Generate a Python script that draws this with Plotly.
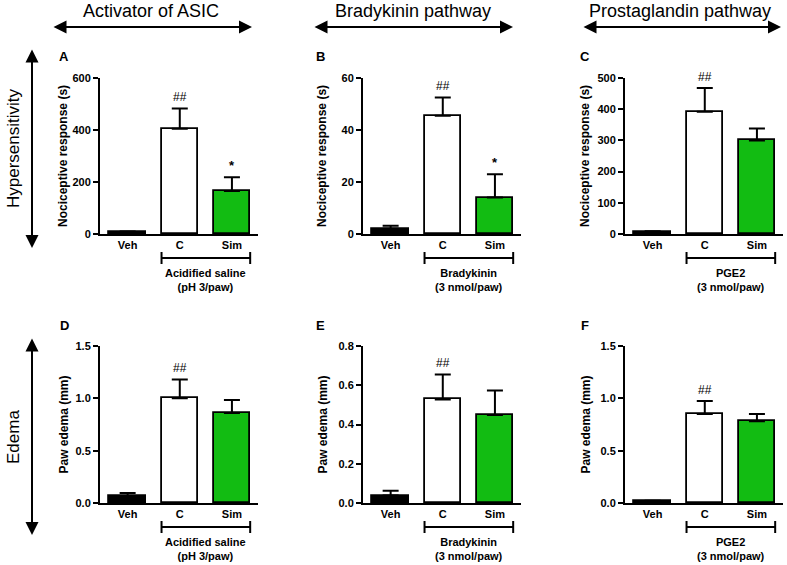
import plotly.graph_objects as go
from plotly.subplots import make_subplots

W, H = 787, 565

categories = ["Veh", "C", "Sim"]
bar_colors = ["black", "white", "#12BC12"]

# media y error estándar de cada panel
mean_a = [7, 405, 165]
sem_a = [3, 78, 53]
mean_b = [2, 45.5, 14]
sem_b = [1.2, 7, 9]
mean_c = [5, 392, 300]
sem_c = [4, 76, 38]
mean_d = [0.065, 1.0, 0.86]
sem_d = [0.03, 0.18, 0.125]
mean_e = [0.038, 0.528, 0.448]
sem_e = [0.024, 0.127, 0.125]
mean_f = [0.015, 0.85, 0.78]
sem_f = [0.007, 0.125, 0.07]

marks_a = ["", "##", "*"]
marks_b = ["", "##", "*"]
marks_c = ["", "##", ""]
marks_d = ["", "##", ""]
marks_e = ["", "##", ""]
marks_f = ["", "##", ""]

column_titles = ["Activator of ASIC", "Bradykinin pathway", "Prostaglandin pathway"]
row_titles = ["Hypersensitivity", "Edema"]
stimulus = ["Acidified saline<br>(pH 3/paw)", "Bradykinin<br>(3 nmol/paw)", "PGE2<br>(3 nmol/paw)"]
panel_letters = ["A", "B", "C", "D", "E", "F"]
y_titles = ["Nociceptive response (s)", "Paw edema (mm)"]


def px(x):
    return x / W


def py(y):
    return 1 - y / H


panels = [
    dict(mean=mean_a, sem=sem_a, marks=marks_a, ymax=600, dtick=200, fmt="d"),
    dict(mean=mean_b, sem=sem_b, marks=marks_b, ymax=60, dtick=20, fmt="d"),
    dict(mean=mean_c, sem=sem_c, marks=marks_c, ymax=500, dtick=100, fmt="d"),
    dict(mean=mean_d, sem=sem_d, marks=marks_d, ymax=1.5, dtick=0.5, fmt=".1f"),
    dict(mean=mean_e, sem=sem_e, marks=marks_e, ymax=0.8, dtick=0.2, fmt=".1f"),
    dict(mean=mean_f, sem=sem_f, marks=marks_f, ymax=1.5, dtick=0.5, fmt=".1f"),
]

# posiciones en pixeles de cada panel (eje y izquierdo, fin del eje x)
x_px = [(100, 258), (363, 521), (625, 783)]
y_px = [(78, 234), (346, 503)]
letter_px = [64, 320, 585]
ytitle_off = [37, 41, 40]

fig = make_subplots(rows=2, cols=3)

FONT = "Liberation Sans, Arial"
bold = dict(family=FONT, size=11, color="black", weight="bold")
title_font = dict(family=FONT, size=12, color="black", weight="bold")
xpos = [0, 1, 2]
bw = 0.7

for i, p in enumerate(panels):
    r, c = i // 3 + 1, i % 3 + 1
    fig.add_trace(go.Bar(
        x=xpos, y=p["mean"], width=bw,
        marker=dict(color=bar_colors, line=dict(color="black", width=1.8)),
        error_y=dict(type="data", symmetric=False, array=p["sem"],
                     arrayminus=[0, 0, 0], color="black", thickness=2, width=8),
        showlegend=False, hoverinfo="skip",
    ), row=r, col=c)

    # asteriscos / almohadillas
    for k, m in enumerate(p["marks"]):
        if m:
            fig.add_annotation(x=xpos[k], y=p["mean"][k] + p["sem"][k], text=m,
                               showarrow=False, yanchor="bottom", yshift=2,
                               font=dict(family=FONT, size=13 if m == "*" else 12,
                                         color="black",
                                         weight="bold" if m == "*" else "normal"),
                               row=r, col=c)

    x0, x1 = x_px[c - 1]
    y0, y1 = y_px[r - 1]
    xa = "xaxis" if i == 0 else "xaxis%d" % (i + 1)
    ya = "yaxis" if i == 0 else "yaxis%d" % (i + 1)
    fig.layout[xa].update(domain=[px(x0), px(x1)], range=[-0.53, 2.5],
                          tickvals=xpos, ticktext=categories, showline=True,
                          linewidth=2, linecolor="black", ticks="", showgrid=False,
                          zeroline=False, tickfont=bold, automargin=False)
    fig.layout[ya].update(domain=[py(y1), py(y0)], range=[0, p["ymax"]],
                          dtick=p["dtick"], tickformat=p["fmt"], showline=True,
                          linewidth=2, linecolor="black", ticks="outside",
                          ticklen=5, tickwidth=2, tickcolor="black", showgrid=False,
                          zeroline=False, tickfont=bold, automargin=False)

    # título del eje y
    fig.add_annotation(xref="paper", yref="paper", x=px(x0 - ytitle_off[c - 1]),
                       y=py((y0 + y1) / 2), text=y_titles[r - 1], textangle=-90,
                       showarrow=False, xanchor="center", yanchor="middle",
                       font=title_font)

    # corchete bajo C y Sim
    xref = "x" if i == 0 else "x%d" % (i + 1)
    yb = py(y1 + 24)
    tick = 6 / H
    fig.add_shape(type="line", xref=xref, yref="paper", x0=1 - bw / 2, x1=2 + bw / 2,
                  y0=yb, y1=yb, line=dict(color="black", width=2))
    for xe in (1 - bw / 2, 2 + bw / 2):
        fig.add_shape(type="line", xref=xref, yref="paper", x0=xe, x1=xe,
                      y0=yb - tick, y1=yb + tick, line=dict(color="black", width=2))
    fig.add_annotation(xref=xref, yref="paper", x=1.5, y=yb - 7 / H, text=stimulus[c - 1],
                       showarrow=False, xanchor="center", yanchor="top", font=bold)

    # letra del panel
    fig.add_annotation(xref="paper", yref="paper", x=px(letter_px[c - 1]), y=py(y0 - 21),
                       text=panel_letters[i], showarrow=False,
                       xanchor="center", yanchor="middle",
                       font=dict(family=FONT, size=13, color="black", weight="bold"))

# títulos de columnas con flechas dobles
col_arrows = [(52, 252, 151), (313, 513, 413), (582, 781, 680)]
for (a0, a1, tc), t in zip(col_arrows, column_titles):
    fig.add_annotation(xref="paper", yref="paper", x=px(tc), y=py(11), text=t,
                       showarrow=False, xanchor="center", yanchor="middle",
                       font=dict(family=FONT, size=18, color="black"))
    fig.add_annotation(xref="paper", yref="paper", x=px(a1), y=py(27), text="",
                       showarrow=True, axref="pixel", ayref="pixel", ax=-(a1 - a0), ay=0,
                       arrowside="end+start", arrowhead=2, arrowsize=1.3, arrowwidth=2,
                       arrowcolor="black")

# títulos de filas con flechas verticales
row_arrows = [(48, 248, 148), (337, 535, 437)]
for (b0, b1, tc), t in zip(row_arrows, row_titles):
    fig.add_annotation(xref="paper", yref="paper", x=px(13), y=py(tc), text=t,
                       textangle=-90, showarrow=False, xanchor="center", yanchor="middle",
                       font=dict(family=FONT, size=17, color="black"))
    fig.add_annotation(xref="paper", yref="paper", x=px(32), y=py(b1), text="",
                       showarrow=True, axref="pixel", ayref="pixel", ax=0, ay=-(b1 - b0),
                       arrowside="end+start", arrowhead=2, arrowsize=1.3, arrowwidth=2,
                       arrowcolor="black")

fig.update_layout(width=W, height=H, margin=dict(l=0, r=0, t=0, b=0, autoexpand=False),
                  plot_bgcolor="white", paper_bgcolor="white", bargap=0)

fig.write_html("out.html", config={"displayModeBar": False},
               post_script="document.body.style.margin='0';")
